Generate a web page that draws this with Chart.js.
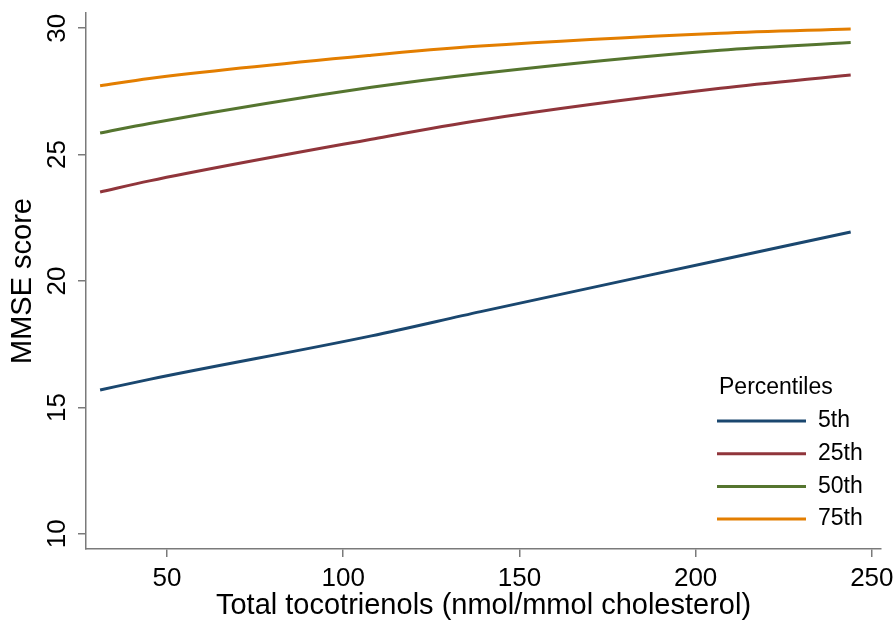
<!DOCTYPE html>
<html>
<head>
<meta charset="utf-8">
<script src="https://cdn.jsdelivr.net/npm/chart.js@4"></script>
<style>
  html, body { margin: 0; padding: 0; background: #fff; }
  #wrap { width: 895px; height: 630px; }
</style>
</head>
<body>
<div id="wrap"><canvas id="chart" width="895" height="630"></canvas></div>
<script>
// Values
const tocotrienols = [31, 45, 108, 139, 207, 244];
const p5  = [15.69, 16.11, 17.83, 18.79, 20.83, 21.94];
const p25 = [23.52, 23.96, 25.61, 26.36, 27.62, 28.15];
const p50 = [25.85, 26.23, 27.66, 28.21, 29.13, 29.43];
const p75 = [27.72, 28.01, 28.93, 29.29, 29.80, 29.97];
const seriesLabels = ['5th', '25th', '50th', '75th'];
const seriesColors = ['#1a476f', '#90353b', '#55752f', '#e37e00'];
const xTicks = [50, 100, 150, 200, 250];
const yTicks = [10, 15, 20, 25, 30];

const FONT = "'Liberation Sans', Arial, sans-serif";
const AXIS_COLOR = '#7a7a7a';

const datasets = [p5, p25, p50, p75].map((vals, i) => ({
    label: seriesLabels[i],
    data: vals.map((v, j) => ({ x: tocotrienols[j], y: v })),
    borderColor: seriesColors[i],
    borderWidth: 3,
    pointRadius: 0,
    fill: false,
    cubicInterpolationMode: 'monotone'
}));

// legend drawn inside the plot, lower right
const insideLegend = {
    id: 'insideLegend',
    afterDraw(chart) {
        const ctx = chart.ctx;
        ctx.save();
        ctx.font = '23px ' + FONT;
        ctx.fillStyle = '#000';
        ctx.textBaseline = 'middle';
        ctx.textAlign = 'left';
        ctx.fillText('Percentiles', 719, 388);
        chart.data.datasets.forEach((ds, i) => {
            const y = 421 + i * 32.7;
            ctx.strokeStyle = ds.borderColor;
            ctx.lineWidth = 3;
            ctx.beginPath();
            ctx.moveTo(717, y);
            ctx.lineTo(806, y);
            ctx.stroke();
            ctx.fillText(ds.label, 818, y);
        });
        ctx.restore();
    }
};

const ctx = document.getElementById('chart').getContext('2d');
const chart = new Chart(ctx, {
    type: 'line',
    data: { datasets: datasets },
    options: {
        responsive: false,
        animation: false,
        layout: { padding: { top: 13, right: 14, left: 0, bottom: 0 } },
        plugins: {
            legend: { display: false },
            tooltip: { enabled: false }
        },
        scales: {
            x: {
                type: 'linear',
                min: 27,
                max: 252.6,
                afterBuildTicks: (scale) => { scale.ticks = xTicks.map(v => ({ value: v })); },
                afterFit: (scale) => { scale.height = 81; scale.paddingRight = 0; },
                grid: { display: true, drawOnChartArea: false, drawTicks: true, tickLength: 8, color: AXIS_COLOR, lineWidth: 1.5 },
                border: { display: true, color: AXIS_COLOR, width: 1.5 },
                ticks: { color: '#000', font: { family: FONT, size: 26 }, padding: 6, maxRotation: 0 },
                title: { display: true, text: 'Total tocotrienols (nmol/mmol cholesterol)', color: '#000', font: { family: FONT, size: 29 }, padding: { top: 0, bottom: 7 } }
            },
            y: {
                type: 'linear',
                min: 9.4,
                max: 30.6,
                afterBuildTicks: (scale) => { scale.ticks = yTicks.map(v => ({ value: v })); },
                afterFit: (scale) => { scale.width = 86; scale.paddingTop = 0; scale.paddingBottom = 0; },
                grid: { display: true, drawOnChartArea: false, drawTicks: true, tickLength: 8, color: AXIS_COLOR, lineWidth: 1.5 },
                border: { display: true, color: AXIS_COLOR, width: 1.5 },
                ticks: { color: '#000', font: { family: FONT, size: 26 }, padding: 6, minRotation: 90, maxRotation: 90, crossAlign: 'center' },
                title: { display: true, text: 'MMSE score', color: '#000', font: { family: FONT, size: 29 }, padding: { top: 6, bottom: 0 } }
            }
        }
    },
    plugins: [insideLegend]
});
</script>
</body>
</html>
